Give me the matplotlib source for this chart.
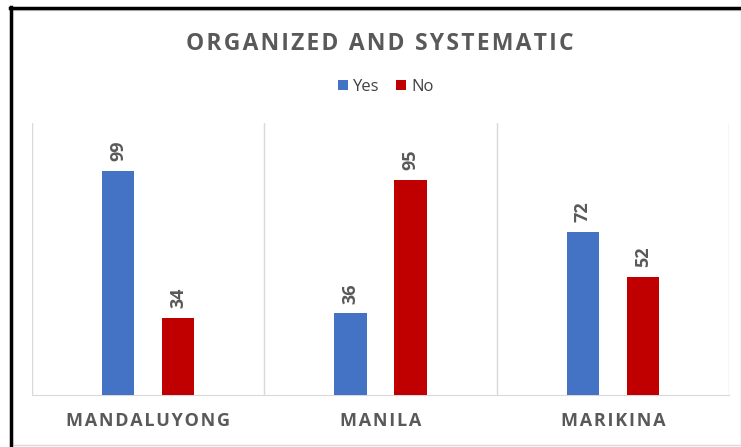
import matplotlib
matplotlib.use("Agg")
from matplotlib import pyplot as plt
from matplotlib.patches import Rectangle
from matplotlib.lines import Line2D
import numpy as np

# data
cities = ["MANDALUYONG", "MANILA", "MARIKINA"]
yes_vals = [99, 36, 72]
no_vals = [34, 95, 52]
series_names = ["Yes", "No"]
title = "ORGANIZED AND SYSTEMATIC"

BLUE = "#4472C4"
RED = "#C00000"
GREY = "#595959"
GRID = "#D9D9D9"

plt.rcParams['font.family'] = ['Open Sans', 'DejaVu Sans']


def spaced(s, gap="\u200a"):
    # fake letter spacing with hair spaces
    return gap.join(s)


W, H = 741, 447
fig = plt.figure(figsize=(W / 100, H / 100), dpi=100)

# plot area in pixel coords of the reference
x0, x1, ytop, ybot = 32, 729, 123, 395
ax = fig.add_axes([x0 / W, (H - ybot) / H, (x1 - x0) / W, (ybot - ytop) / H])

x = np.arange(len(cities))
off = 0.129
w = 0.138
b1 = ax.bar(x - off, yes_vals, w, color=BLUE, label=series_names[0], zorder=3)
b2 = ax.bar(x + off, no_vals, w, color=RED, label=series_names[1], zorder=3)

for bars in (b1, b2):
    for r in bars:
        ax.annotate(str(int(r.get_height())), (r.get_x() + r.get_width() / 2, r.get_height()),
                    xytext=(0, 7), textcoords="offset points", rotation=90,
                    ha="center", va="bottom", fontsize=13, fontweight="bold", color=GREY)

ax.set_xlim(-0.5, len(cities) - 0.5)
ax.set_ylim(0, 120)
ax.set_yticks([])
ax.set_xticks(x)
ax.set_xticklabels([spaced(c) for c in cities], fontsize=13, fontweight="bold", color=GREY)
ax.tick_params(axis="x", length=0, pad=12)
for s in ("top", "left", "right"):
    ax.spines[s].set_visible(False)
ax.spines["bottom"].set_color(GRID)

# vertical separators between categories
for b in np.arange(-0.5, len(cities), 1.0):
    ax.axvline(b, color=GRID, lw=1, zorder=1)

fig.text(380 / W, (H - 44) / H, spaced(title), ha="center", va="center",
         fontsize=16.5, fontweight="bold", color=GREY)
fig.legend(handles=[b1, b2], loc="center", bbox_to_anchor=(386 / W, (H - 87) / H),
           ncol=2, frameon=False, fontsize=12, handlelength=0.6, handleheight=0.6,
           handletextpad=0.3, columnspacing=1.0, labelcolor="#404040")

# chart frame and the black screenshot edge
fig.patches.append(Rectangle((12 / W, 2 / H), (W - 12) / W, (H - 12) / H, transform=fig.transFigure,
                             fill=False, edgecolor=GRID, lw=1))
fig.lines.append(Line2D([10.5 / W, 10.5 / W], [0, (H - 7) / H], transform=fig.transFigure, color="black", lw=2.5))
fig.lines.append(Line2D([10 / W, 1], [(H - 8) / H, (H - 8) / H], transform=fig.transFigure, color="black", lw=2.5))

fig.savefig("out.png", dpi=100)
